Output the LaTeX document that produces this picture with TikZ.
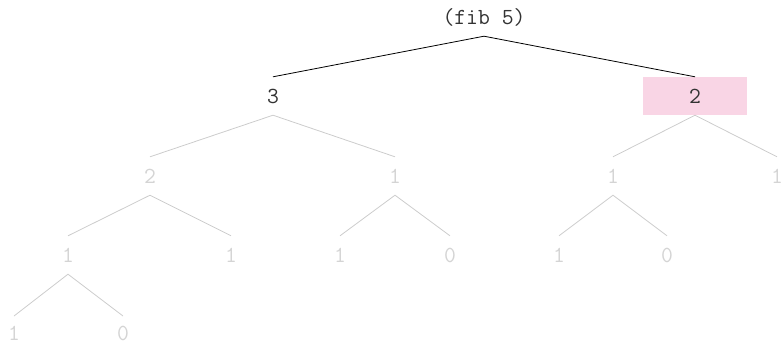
\documentclass[tikz,border=0pt]{standalone}
\usepackage{fontspec}
\usepackage{xcolor}
\usepackage{tikz}
\usetikzlibrary{positioning}
\definecolor{inkdark}{HTML}{333333}
\definecolor{inkfaint}{HTML}{D4D4D4}
\definecolor{edgefaint}{HTML}{CCCCCC}
\definecolor{hilite}{HTML}{F9D5E5}

\begin{document}
\begin{tikzpicture}[x=1pt,y=-1pt,
  call/.style={font=\ttfamily\fontsize{23}{24}\selectfont,minimum height=38pt,
    minimum width=104pt,inner sep=0pt,text=inkdark},
  pending/.style={call,text=inkfaint},
  leaf/.style={pending,minimum height=0pt,minimum width=0pt,inner sep=0pt,
    text height=24pt,text depth=0pt,anchor=north},
  live/.style={draw=black,line width=0.8pt},
  later/.style={draw=edgefaint,line width=0.8pt}]
  \useasboundingbox (0,0) rectangle (781,343);
  % root
  \node[call] (fib5) at (484,17) {(fib 5)};
  % level 1
  \node[call] (a3) at (273,96) {3};
  \fill[hilite] (643,77) rectangle (747,115);
  \node[call] (a2) at (695,96) {2};
  % level 2
  \node[pending] (b2) at (150,176) {2};
  \node[pending] (b1) at (395,176) {1};
  \node[pending] (c1) at (613,176) {1};
  \node[pending] (c0) at (777,176) {1};
  % level 3
  \node[pending] (d1) at (68,255) {1};
  \node[pending] (d2) at (231,255) {1};
  \node[pending] (e1) at (340,255) {1};
  \node[pending] (e0) at (450,255) {0};
  \node[pending] (f1) at (559,255) {1};
  \node[pending] (f0) at (667,255) {0};
  % level 4
  \node[leaf] (g1) at (14,316) {1};
  \node[leaf] (g0) at (123,316) {0};
  % edges
  \draw[live] (a3.north) -- (fib5.south) -- (a2.north);
  \draw[later] (b2.north) -- (a3.south) -- (b1.north);
  \draw[later] (c1.north) -- (a2.south) -- (c0.north);
  \draw[later] (d1.north) -- (b2.south) -- (d2.north);
  \draw[later] (e1.north) -- (b1.south) -- (e0.north);
  \draw[later] (f1.north) -- (c1.south) -- (f0.north);
  \draw[later] (g1.north) -- (d1.south) -- (g0.north);
\end{tikzpicture}
\end{document}
